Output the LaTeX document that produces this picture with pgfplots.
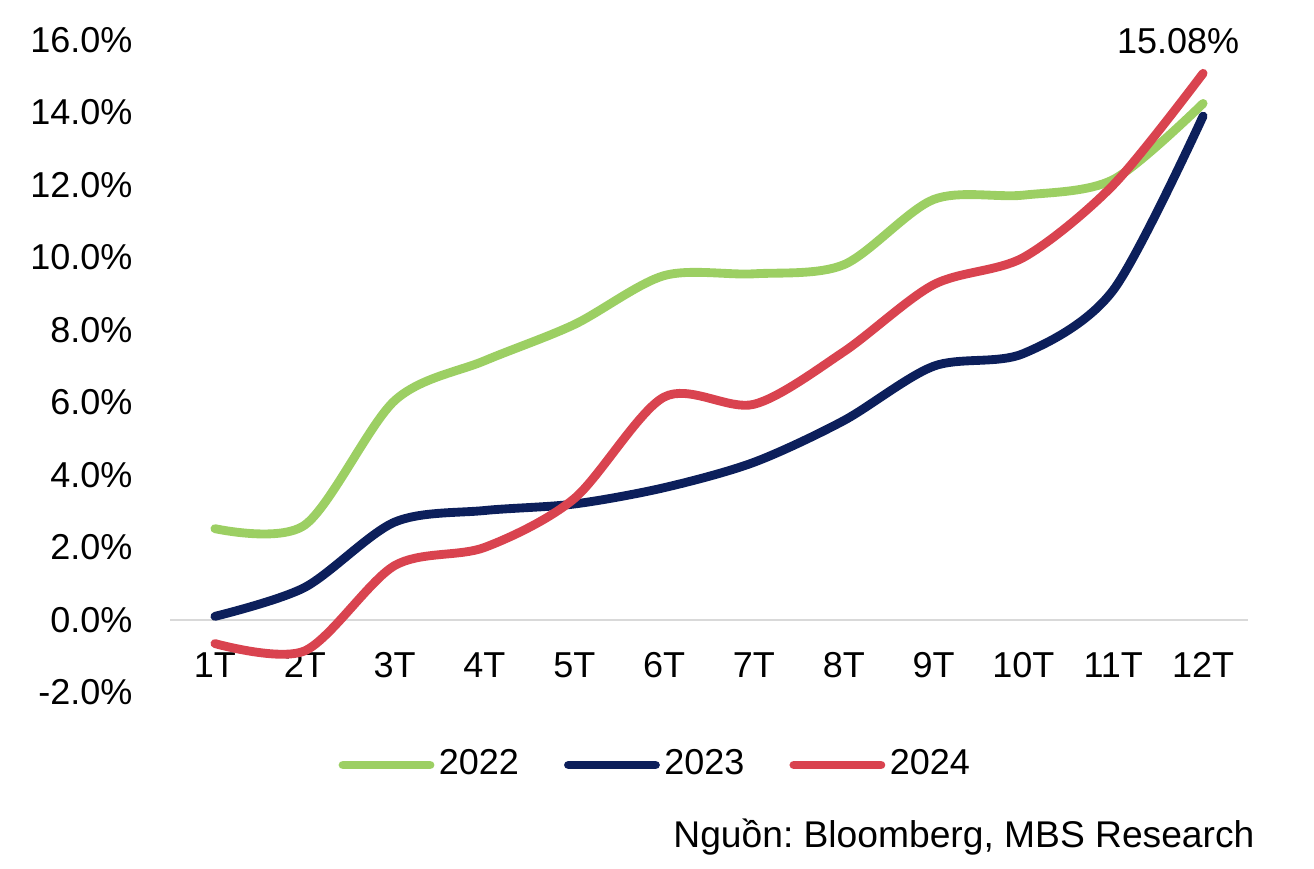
\documentclass[border=0pt]{standalone}
\usepackage{fontspec}
\setmainfont{Liberation Sans}
\usepackage{pgfplots}
\pgfplotsset{compat=1.18}
\definecolor{c22}{HTML}{9CCF63}
\definecolor{c23}{HTML}{0C1F5B}
\definecolor{c24}{HTML}{D9434F}
\definecolor{axgray}{HTML}{D9D9D9}
\begin{document}
\frenchspacing
\fontsize{12pt}{14.4pt}\selectfont
\begin{tikzpicture}
\useasboundingbox (-56.67pt,-58.83pt) rectangle (381.33pt,230.83pt);
\begin{axis}[
  at={(0,0)}, anchor=south west,
  scale only axis, width=359.33pt, height=217.5pt,
  xmin=0.5, xmax=12.5, ymin=-2, ymax=16,
  axis x line=middle, axis y line=left,
  x axis line style={draw=axgray, line width=0.75pt, -},
  y axis line style={draw=none},
  xtick={1,...,12},
  xticklabels={1T,2T,3T,4T,5T,6T,7T,8T,9T,10T,11T,12T},
  ytick={-2,0,...,16},
  major tick length=0pt,
  tick style={draw=none},
  /pgf/number format/assume math mode=true,
  yticklabel={\pgfmathprintnumber[fixed,fixed zerofill,precision=1]{\tick}\%},
  yticklabel style={xshift=-8.33pt, font=\fontsize{12pt}{14.4pt}\selectfont},
  xticklabel style={anchor=base, yshift=-19.33pt, inner sep=0pt, font=\fontsize{12pt}{14.4pt}\selectfont},
  clip=false,
  legend style={draw=none, fill=none, at={(0.4513,-0.1111)}, anchor=center,
    legend columns=-1, nodes={inner sep=1.5pt},
    /tikz/every even column/.append style={column sep=13.5pt},
    font=\fontsize{12pt}{14.4pt}\selectfont},
  legend image code/.code={\draw[#1, line cap=round] (0pt,0pt) -- (29pt,0pt);},
  every axis plot/.append style={line width=2.95pt, line cap=round, line join=round, smooth, no markers},
]
\addplot[c22] coordinates {(1,2.52) (2,2.62) (3,6.05) (4,7.15) (5,8.15) (6,9.5) (7,9.55) (8,9.8) (9,11.6) (10,11.72) (11,12.15) (12,14.25)};
\addlegendentry{2022}
\addplot[c23] coordinates {(1,0.1) (2,0.9) (3,2.7) (4,3.02) (5,3.2) (6,3.65) (7,4.35) (8,5.5) (9,7.0) (10,7.35) (11,9.1) (12,13.9)};
\addlegendentry{2023}
\addplot[c24] coordinates {(1,-0.65) (2,-0.85) (3,1.5) (4,2.0) (5,3.35) (6,6.15) (7,5.95) (8,7.4) (9,9.25) (10,10.0) (11,12.0) (12,15.08)};
\addlegendentry{2024}
\node[anchor=base, inner sep=0pt, xshift=-8.3pt, yshift=6.67pt] at (axis cs:12,15.08) {15.08\%};
\end{axis}
\node[anchor=base east, inner sep=0pt, font=\fontsize{12.4pt}{14.8pt}\selectfont] at (361.67pt,-51.5pt) {Nguồn: Bloomberg, MBS Research};
\end{tikzpicture}
\end{document}
